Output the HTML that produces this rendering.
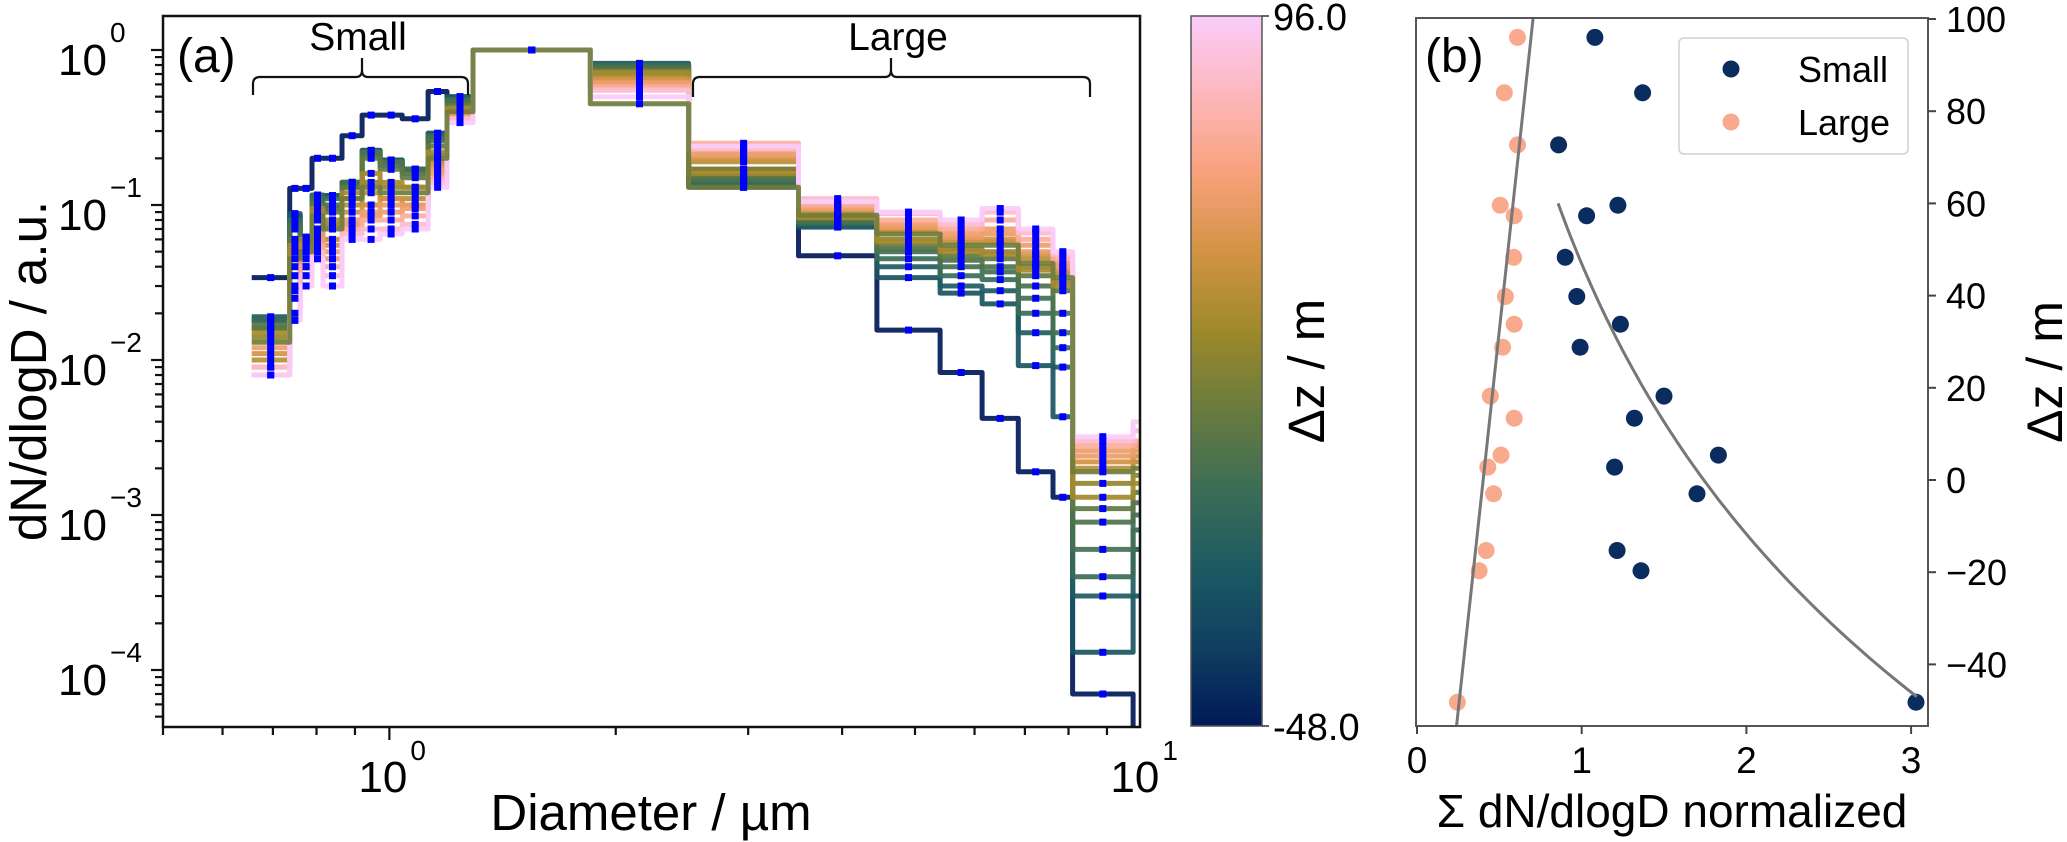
<!DOCTYPE html>
<html><head><meta charset="utf-8"><style>
html,body{margin:0;padding:0;background:#fff;}
svg{display:block;font-family:"Liberation Sans",Arial,sans-serif;}
</style></head><body>
<svg id="fig" width="2067" height="842" viewBox="0 0 2067 842" xmlns="http://www.w3.org/2000/svg">
<defs>
<clipPath id="clipA"><rect x="163" y="16" width="977" height="711"/></clipPath>
<clipPath id="clipB"><rect x="1416" y="18" width="512" height="708"/></clipPath>
<linearGradient id="batlow" x1="0" y1="1" x2="0" y2="0">
<stop offset="0" stop-color="#011959"/><stop offset="0.111" stop-color="#103f60"/><stop offset="0.222" stop-color="#1c5a62"/><stop offset="0.333" stop-color="#3c6d56"/><stop offset="0.444" stop-color="#687b3e"/><stop offset="0.556" stop-color="#9d892b"/><stop offset="0.667" stop-color="#d29343"/><stop offset="0.778" stop-color="#f8a17b"/><stop offset="0.889" stop-color="#fdb7bc"/><stop offset="1" stop-color="#faccfa"/>
</linearGradient>
</defs>
<g id="panelA">
  <g id="linesA" clip-path="url(#clipA)"></g>
  <rect x="163" y="16" width="977" height="711" fill="none" stroke="#111" stroke-width="2.5"/>
  <g id="ticksA"></g>
  <text x="177" y="72" font-size="48">(a)</text>
  <path d="M253,95 V84 Q253,77 260,77 H356 Q362,77 362,70 V58 V70 Q362,77 368,77 H461 Q468,77 468,84 V95" fill="none" stroke="#111" stroke-width="2.2"/>
  <text x="358" y="50" font-size="39" text-anchor="middle">Small</text>
  <path d="M693,97 V84 Q693,77 700,77 H885 Q891,77 891,70 V58 V70 Q891,77 897,77 H1083 Q1090,77 1090,84 V97" fill="none" stroke="#111" stroke-width="2.2"/>
  <text x="898" y="50" font-size="39" text-anchor="middle">Large</text>
  <text transform="translate(46,371) rotate(-90)" font-size="51" text-anchor="middle">dN/dlogD / a.u.</text>
  <text x="651" y="830" font-size="51" text-anchor="middle">Diameter / µm</text>
</g>
<g id="colorbar">
  <rect x="1191" y="16" width="71" height="710" fill="url(#batlow)" stroke="#555" stroke-width="1.5"/>
  <line x1="1262" y1="16" x2="1269" y2="16" stroke="#333" stroke-width="1.5"/>
  <line x1="1262" y1="726" x2="1269" y2="726" stroke="#333" stroke-width="1.5"/>
  <text x="1273" y="30" font-size="38">96.0</text>
  <text x="1273" y="740" font-size="38">-48.0</text>
  <text transform="translate(1324,371) rotate(-90)" font-size="51" text-anchor="middle">Δz / m</text>
</g>
<g id="panelB">
  <g id="marksB" clip-path="url(#clipB)"></g>
  <rect x="1416" y="18" width="512" height="708" fill="none" stroke="#555" stroke-width="2"/>
  <g id="ticksB"></g>
  <text x="1425" y="72" font-size="48">(b)</text>
  <g>
    <rect x="1679" y="38" width="229" height="116" rx="5" fill="#fff" fill-opacity="0.85" stroke="#d0d0d0" stroke-width="1.5"/>
    <circle cx="1731" cy="69" r="8.5" fill="#0b2c5e"/>
    <text x="1798" y="82" font-size="36">Small</text>
    <circle cx="1731" cy="122" r="8.5" fill="#f9a98c"/>
    <text x="1798" y="135" font-size="36">Large</text>
  </g>
  <text x="1672" y="827" font-size="46" text-anchor="middle">Σ dN/dlogD normalized</text>
  <text transform="translate(2062,372) rotate(-90)" font-size="50" text-anchor="middle">Δz / m</text>
</g>
</svg>
<script>
// ---------- Panel (a) data ----------
const binEdges = [0.656,0.737,0.761,0.789,0.816,0.865,0.92,0.972,1.04,1.126,1.193,1.292,1.85,2.5,3.5,4.45,5.4,6.14,6.86,7.63,8.1,9.75,12];
const seriesZ = [-48,-20,-15,-2,3,6,13,29,34,40,48,58,60,72,84,96,18];
const s96 = [0.008,0.018,0.03,0.045,0.03,0.06,0.06,0.065,0.07,0.13,0.34,1,0.5,0.24,0.105,0.09,0.08,0.095,0.07,0.05,0.0032,0.004];
const s84 = [0.009,0.02,0.035,0.05,0.035,0.065,0.07,0.07,0.075,0.14,0.36,1,0.55,0.23,0.11,0.088,0.075,0.09,0.066,0.048,0.003,0.0035];
const s72 = [0.008,0.025,0.04,0.055,0.04,0.07,0.08,0.08,0.085,0.15,0.36,1,0.58,0.25,0.1,0.08,0.07,0.08,0.06,0.045,0.0028,0.003];
const s60 = [0.012,0.03,0.045,0.06,0.05,0.08,0.09,0.09,0.095,0.16,0.38,1,0.6,0.22,0.1,0.075,0.066,0.07,0.055,0.042,0.0026,0.0028];
const s58 = [0.009,0.028,0.04,0.065,0.045,0.075,0.085,0.1,0.1,0.17,0.37,1,0.62,0.21,0.095,0.072,0.062,0.065,0.05,0.04,0.0024,0.0026];
const s48 = [0.011,0.035,0.05,0.07,0.055,0.09,0.1,0.11,0.1,0.18,0.39,1,0.64,0.2,0.09,0.07,0.06,0.06,0.048,0.038,0.0022,0.0024];
const s40 = [0.01,0.04,0.055,0.08,0.06,0.1,0.12,0.11,0.11,0.19,0.4,1,0.66,0.19,0.088,0.068,0.058,0.058,0.045,0.036,0.002,0.0022];
const s34 = [0.015,0.055,0.06,0.095,0.08,0.12,0.16,0.14,0.13,0.22,0.42,1,0.72,0.16,0.083,0.058,0.05,0.048,0.038,0.03,0.0013,0.0016];
const s29 = [0.014,0.05,0.055,0.09,0.075,0.11,0.14,0.13,0.13,0.21,0.41,1,0.7,0.17,0.084,0.06,0.052,0.05,0.04,0.032,0.0016,0.0018];
const s18 = [0.013,0.045,0.05,0.085,0.07,0.11,0.13,0.12,0.12,0.2,0.4,1,0.45,0.13,0.086,0.065,0.055,0.055,0.042,0.034,0.0019,0.002];
const s13 = [0.016,0.06,0.062,0.1,0.09,0.13,0.2,0.17,0.15,0.24,0.44,1,0.74,0.155,0.082,0.055,0.047,0.045,0.035,0.028,0.0011,0.0014];
const s6 = [0.017,0.07,0.06,0.105,0.095,0.13,0.22,0.19,0.16,0.26,0.46,1,0.76,0.15,0.08,0.052,0.044,0.04,0.03,0.02,0.0009,0.0012];
const s3 = [0.016,0.075,0.055,0.11,0.1,0.14,0.21,0.18,0.17,0.27,0.47,1,0.78,0.145,0.078,0.05,0.04,0.037,0.025,0.015,0.0006,0.001];
const sm2 = [0.018,0.08,0.06,0.115,0.11,0.14,0.22,0.19,0.17,0.28,0.48,1,0.8,0.14,0.076,0.045,0.035,0.033,0.02,0.012,0.0004,0.0008];
const sm15 = [0.019,0.085,0.062,0.115,0.115,0.14,0.225,0.195,0.17,0.29,0.5,1,0.8,0.135,0.074,0.04,0.03,0.028,0.015,0.009,0.0003,0.0006];
const sm20 = [0.018,0.088,0.06,0.116,0.115,0.14,0.225,0.195,0.17,0.29,0.5,1,0.82,0.13,0.072,0.034,0.027,0.023,0.0092,0.0043,0.00013,0.0003];
const sm48 = [0.034,0.128,0.128,0.2,0.2,0.28,0.38,0.38,0.36,0.54,0.49,1,0.6,0.17,0.047,0.0156,0.0083,0.0042,0.0019,0.0013,0.00007,0.00001];
const seriesValues = [sm48,sm20,sm15,sm2,s3,s6,s13,s29,s34,s40,s48,s58,s60,s72,s84,s96,s18];
const zMin = -48, zMax = 96;
const yTickExps = [0,-1,-2,-3,-4];
const yTickLabels = ["0","\u22121","\u22122","\u22123","\u22124"];
const xTickExps = [0,1];
const xTickLabels = ["0","1"];

// ---------- Panel (b) data ----------
const pointZ = [96,84,72.7,59.6,57.3,48.3,39.8,33.8,28.8,18.2,13.4,5.4,2.8,-3,-15.3,-19.7,-48.2];
const smallSum = [1.08,1.37,0.86,1.22,1.03,0.9,0.97,1.235,0.99,1.5,1.32,1.83,1.2,1.7,1.215,1.36,3.03];
const largeSum = [0.61,0.53,0.61,0.505,0.59,0.587,0.537,0.59,0.52,0.445,0.59,0.51,0.43,0.465,0.42,0.377,0.245];
const largeFitX = [0.24,0.705];
const largeFitZ = [-53.4,100.2];
const smallFitA = [1.741];
const smallFitK = [0.01182];
const smallFitZRange = [60,-47];
const bXTicks = [0,1,2,3];
const bYTicks = [100,80,60,40,20,0,-20,-40];

// ---------- helpers ----------
const NS = "http://www.w3.org/2000/svg";
function mk(tag, attrs, parent){const e=document.createElementNS(NS,tag);for(const k in attrs)e.setAttribute(k,attrs[k]);parent.appendChild(e);return e;}
function xa(d){return 163 + 752*Math.log10(d/0.5);}
function ya(v){const y = 50 - 155*Math.log10(v);return Math.min(y,732);}
function xb(v){return 1417 + 164.7*v;}
function yb(z){return 19 + (100-z)*4.61;}
const stops = [[1,25,89],[16,63,96],[28,90,98],[60,109,86],[104,123,62],[157,137,43],[210,147,67],[248,161,123],[253,183,188],[250,204,250]];
function cmap(t){t=Math.max(0,Math.min(1,t));const p=t*(stops.length-1);const i=Math.min(Math.floor(p),stops.length-2);const f=p-i;const a=stops[i],b=stops[i+1];return "rgb("+[0,1,2].map(j=>Math.round(a[j]+(b[j]-a[j])*f)).join(",")+")";}

// ---------- draw panel (a) ----------
const gA = document.getElementById("linesA");
for(let s=0;s<seriesValues.length;s++){
  const vals = seriesValues[s];
  let d = "M"+xa(binEdges[0]).toFixed(1)+","+ya(vals[0]).toFixed(1);
  for(let i=0;i<vals.length;i++){
    if(i>0) d += " V"+ya(vals[i]).toFixed(1);
    d += " H"+xa(binEdges[i+1]).toFixed(1);
  }
  const p = mk("path",{d:d,fill:"none",stroke:cmap((seriesZ[s]-zMin)/(zMax-zMin)),"stroke-width":5,"stroke-linejoin":"round","stroke-opacity":0.92},gA);
  
  
}
for(let s=0;s<seriesValues.length;s++){
  const vals = seriesValues[s];
  for(let i=0;i<vals.length;i++){
    const cx = xa(Math.sqrt(binEdges[i]*binEdges[i+1]));
    const r = mk("rect",{x:(cx-3.5).toFixed(1),y:(ya(vals[i])-3.5).toFixed(1),width:7,height:7,fill:"#0000ff"},gA);
    
    
  }
}
const tA = document.getElementById("ticksA");
for(let e=-5;e<=0;e++){
  for(let m=1;m<=9;m++){
    const v = m*Math.pow(10,e); const y = 50-155*Math.log10(v);
    if(y<16||y>727) continue;
    mk("line",{x1:163,x2:m===1?151:155,y1:y,y2:y,stroke:"#111","stroke-width":2.2},tA);
  }
}
yTickExps.forEach((e,i)=>{
  const y = ya(Math.pow(10,e));
  const t = mk("text",{x:107,y:y+25,"font-size":44,"text-anchor":"end"},tA); t.textContent="10";
  
  
  const sp = mk("text",{x:110,y:y-8,"font-size":28},tA); sp.textContent=yTickLabels[i];
});
for(let e=-1;e<=1;e++){
  for(let m=1;m<=9;m++){
    const v = m*Math.pow(10,e); const x = xa(v);
    if(x<162||x>1141) continue;
    mk("line",{x1:x,x2:x,y1:727,y2:m===1?740:735,stroke:"#111","stroke-width":2.2},tA);
  }
}
xTickExps.forEach((e,i)=>{
  const x = xa(Math.pow(10,e));
  const t = mk("text",{x:x+18,y:792,"font-size":44,"text-anchor":"end"},tA); t.textContent="10";
  
  
  const sp = mk("text",{x:x+21,y:760,"font-size":28},tA); sp.textContent=xTickLabels[i];
});

// ---------- draw panel (b) ----------
const gB = document.getElementById("marksB");
pointZ.forEach((z,i)=>{
  const c = mk("circle",{cx:xb(largeSum[i]).toFixed(1),cy:yb(z).toFixed(1),r:8.5,fill:"#f9a98c"},gB);
  
  
});
pointZ.forEach((z,i)=>{
  const c = mk("circle",{cx:xb(smallSum[i]).toFixed(1),cy:yb(z).toFixed(1),r:8.5,fill:"#0b2c5e"},gB);
  
  
});
const lf = mk("line",{x1:xb(largeFitX[0]),y1:yb(largeFitZ[0]),x2:xb(largeFitX[1]),y2:yb(largeFitZ[1]),stroke:"#777","stroke-width":3},gB);


let sd = "";
for(let k=0;k<=60;k++){
  const z = smallFitZRange[0] + (smallFitZRange[1]-smallFitZRange[0])*k/60;
  const x = smallFitA[0]*Math.exp(-smallFitK[0]*z);
  sd += (k?" L":"M")+xb(x).toFixed(1)+","+yb(z).toFixed(1);
}
const sf = mk("path",{d:sd,fill:"none",stroke:"#777","stroke-width":3},gB);


const tB = document.getElementById("ticksB");
bXTicks.forEach(v=>{
  const x = xb(v);
  mk("line",{x1:x,x2:x,y1:726,y2:734,stroke:"#444","stroke-width":2},tB);
  const t = mk("text",{x:x,y:773,"font-size":37,"text-anchor":"middle"},tB); t.textContent=String(v);
  
  
});
bYTicks.forEach(v=>{
  const y = yb(v);
  mk("line",{x1:1928,x2:1936,y1:y,y2:y,stroke:"#444","stroke-width":2},tB);
  const t = mk("text",{x:1946,y:y+13,"font-size":36},tB); t.textContent=(v<0?"\u2212":"")+Math.abs(v);
  
  
});
</script>
</body></html>
